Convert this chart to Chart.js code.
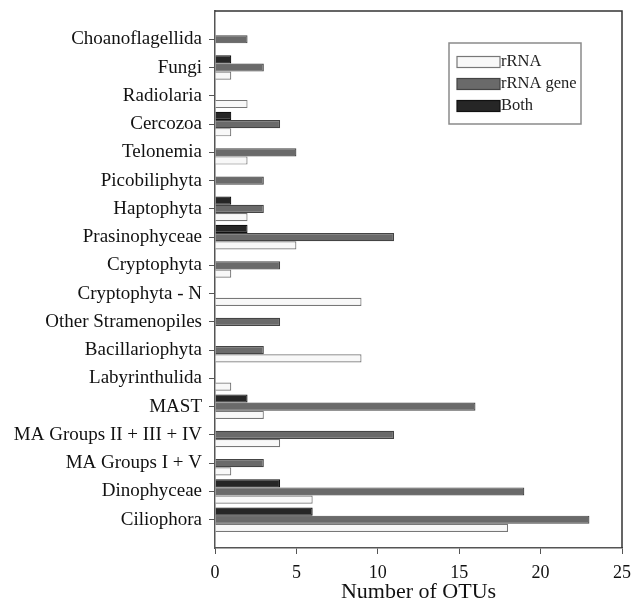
<!DOCTYPE html>
<html>
<head>
<meta charset="utf-8">
<title>Number of OTUs</title>
<script src="https://cdn.jsdelivr.net/npm/chart.js@4.4.1/dist/chart.umd.min.js"></script>
<style>
    html, body { margin: 0; padding: 0; background: #ffffff; }
    #wrap { width: 632px; height: 613px; position: relative; }
</style>
</head>
<body>
<div id="wrap"><canvas id="otuChart"></canvas></div>
<script>
// Categories, top to bottom
const categories = [
    'Choanoflagellida', 'Fungi', 'Radiolaria', 'Cercozoa', 'Telonemia',
    'Picobiliphyta', 'Haptophyta', 'Prasinophyceae', 'Cryptophyta',
    'Cryptophyta - N', 'Other Stramenopiles', 'Bacillariophyta',
    'Labyrinthulida', 'MAST', 'MA Groups II + III + IV', 'MA Groups I + V',
    'Dinophyceae', 'Ciliophora'
];

const rrnaValues = [0, 1, 2, 1, 2, 0, 2, 5, 1, 9, 0, 9, 1, 3, 4, 1, 6, 18];
const geneValues = [2, 3, 0, 4, 5, 3, 3, 11, 4, 0, 4, 3, 0, 16, 11, 3, 19, 23];
const bothValues = [0, 1, 0, 1, 0, 0, 1, 2, 0, 0, 0, 0, 0, 2, 0, 0, 4, 6];

const xTicks = [0, 5, 10, 15, 20, 25];

const SERIF = "'Liberation Serif', 'Times New Roman', serif";

// {x, y} points so the bars sit on a linear index axis
const toPoints = vals => vals.map((v, i) => ({ x: v, y: i }));

/**
 * Top and right edges of the plot frame
 */
const frameLines = {
    id: 'frameLines',
    afterDraw(chart) {
        const { ctx, chartArea: a } = chart;
        ctx.save();
        ctx.strokeStyle = '#333333';
        ctx.lineWidth = 1.5;
        ctx.beginPath();
        ctx.moveTo(a.left, a.top);
        ctx.lineTo(a.right, a.top);
        ctx.lineTo(a.right, a.bottom);
        ctx.stroke();
        ctx.restore();
    }
};

/**
 * Boxed legend inside the plot area (rRNA, rRNA gene, Both)
 */
const boxLegend = {
    id: 'boxLegend',
    afterDraw(chart) {
        const { ctx, chartArea: a } = chart;
        const boxW = 132, boxH = 81;
        const bx = a.right - 41, by = a.top + 32;
        ctx.save();
        ctx.fillStyle = '#ffffff';
        ctx.fillRect(bx - boxW, by, boxW, boxH);
        ctx.strokeStyle = '#8a8a8a';
        ctx.lineWidth = 1.5;
        ctx.strokeRect(bx - boxW, by, boxW, boxH);

        const order = [2, 1, 0];
        ctx.font = '16.5px ' + SERIF;
        ctx.textBaseline = 'middle';
        order.forEach((di, row) => {
            const ds = chart.data.datasets[di];
            const cy = by + 19 + row * 22;
            const sx = bx - boxW + 8;
            ctx.fillStyle = ds.backgroundColor;
            ctx.fillRect(sx, cy - 5.5, 43, 11);
            ctx.strokeStyle = ds.borderColor;
            ctx.lineWidth = 1.2;
            ctx.strokeRect(sx, cy - 5.5, 43, 11);
            ctx.fillStyle = '#222222';
            ctx.fillText(ds.label, sx + 44, cy);
        });
        ctx.restore();
    }
};

const ctx = document.getElementById('otuChart').getContext('2d');
const otuChart = new Chart(ctx, {
    type: 'bar',
    data: {
        datasets: [
            {
                label: 'Both',
                data: toPoints(bothValues),
                backgroundColor: '#262626',
                borderColor: '#111111',
                borderWidth: 1.2
            },
            {
                label: 'rRNA gene',
                data: toPoints(geneValues),
                backgroundColor: '#6a6a6a',
                borderColor: '#444444',
                borderWidth: 1.2
            },
            {
                label: 'rRNA',
                data: toPoints(rrnaValues),
                backgroundColor: '#f8f8f8',
                borderColor: '#777777',
                borderWidth: 1.2
            }
        ]
    },
    options: {
        indexAxis: 'y',
        responsive: true,
        maintainAspectRatio: false,
        animation: false,
        categoryPercentage: 0.87,
        barPercentage: 1.0,
        layout: { padding: { top: 11, right: 10, left: 0, bottom: 0 } },
        plugins: {
            legend: { display: false },
            tooltip: { enabled: false }
        },
        scales: {
            x: {
                type: 'linear',
                min: 0,
                max: 25,
                afterBuildTicks: s => { s.ticks = xTicks.map(v => ({ value: v })); },
                afterFit: s => {
                    s.height = 65;
                    s.paddingLeft = 0;
                    s.paddingRight = 0;
                },
                grid: {
                    drawOnChartArea: false,
                    drawTicks: true,
                    tickLength: 6,
                    color: '#555555'
                },
                border: { display: true, color: '#555555', width: 1.5 },
                ticks: {
                    color: '#111111',
                    padding: 8,
                    font: { family: SERIF, size: 18 }
                },
                title: {
                    display: true,
                    text: 'Number of OTUs',
                    color: '#111111',
                    padding: { top: 2, bottom: 8 },
                    font: { family: SERIF, size: 22 }
                }
            },
            y: {
                type: 'linear',
                min: -1,
                max: categories.length,
                reverse: true,
                offset: false,
                afterBuildTicks: s => {
                    s.ticks = categories.map((c, i) => ({ value: i }));
                },
                afterFit: s => {
                    s.width = 215;
                    s.paddingTop = 0;
                    s.paddingBottom = 0;
                },
                grid: {
                    offset: false,
                    drawOnChartArea: false,
                    drawTicks: true,
                    tickLength: 6,
                    color: '#555555'
                },
                border: { display: true, color: '#555555', width: 1.5 },
                ticks: {
                    autoSkip: false,
                    color: '#111111',
                    padding: 7,
                    font: { family: SERIF, size: 19 },
                    callback: v => categories[v]
                }
            }
        }
    },
    plugins: [frameLines, boxLegend]
});
</script>
</body>
</html>
